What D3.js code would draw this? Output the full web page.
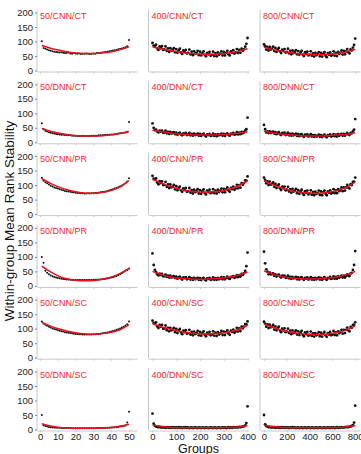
<!DOCTYPE html>
<html>
<head>
<meta charset="utf-8">
<script src="https://cdn.jsdelivr.net/npm/d3@7"></script>
<style>
  html, body { margin: 0; padding: 0; background: #fff; }
  svg { display: block; font-family: "Liberation Sans", Arial, sans-serif; }
</style>
</head>
<body>
<div id="container"></div>
<script>
// sizes of each column (number of groups) and the row labels
const groupSizes = [50, 400, 800];
const rowLabels = ['CNN/CT', 'DNN/CT', 'CNN/PR', 'DNN/PR', 'CNN/SC', 'DNN/SC'];
const yTicks = [0, 50, 100, 150, 200];
const xTicks = [
  [0, 10, 20, 30, 40, 50],
  [0, 100, 200, 300, 400],
  [0, 200, 400, 600, 800],
];

// 50-group panels: one value per group (groups 1..50)
const cnnCt50 = [101,78,75,72,70,68,66,65,64,63, 62,63,61,60,60,62,59,58,60,59, 58,59,57,58,58,59,58,57,58,59, 58,60,60,61,62,63,64,65,66,67, 69,70,71,73,74,76,78,80,84,105];
const dnnCt50 = [66,45,40,37,35,33,31,30,29,28, 27,26,26,25,25,24,24,23,23,23, 22,22,22,23,22,22,22,22,23,23, 23,23,24,24,24,25,25,26,26,27, 27,28,29,30,31,32,33,34,36,70];
const cnnPr50 = [125,115,110,106,102,98,95,92,90,88, 86,84,82,80,79,78,77,75,75,74, 73,73,72,72,71,71,72,71,72,72, 73,73,74,75,76,77,78,80,82,84, 86,88,90,93,96,99,102,106,112,124];
const dnnPr50 = [100,80,52,45,40,36,33,31,29,27, 26,25,24,23,22,22,21,21,20,20, 20,20,20,20,20,20,20,20,20,21, 21,21,22,22,23,24,25,26,27,29, 30,32,34,37,40,44,48,52,55,60];
const cnnSc50 = [125,118,114,110,107,104,101,99,97,95, 93,91,90,88,87,86,85,84,83,82, 82,81,81,80,80,80,80,80,80,81, 81,82,82,83,84,85,86,87,89,90, 92,94,96,98,101,104,107,111,115,125];
const dnnSc50 = [50,15,12,10,9,8,7,7,6,6, 6,5,5,5,5,5,5,4,4,4, 4,4,4,4,4,4,4,4,4,4, 4,5,5,5,5,5,6,6,6,7, 7,8,8,9,10,11,12,14,24,61];

// 400-group panels: every 5th group (0..400)
const cnnCt400 = [95,86,84,89,76,71,83,77,84,71, 73,83,68,76,64,77,68,71,77,63, 74,61,69,75,62,57,69,64,71,59, 61,72,56,65,53,66,58,61,68,53, 65,52,60,66,54,49,61,56,64,51, 54,65,50,60,49,62,54,58,66,52, 64,52,61,68,56,52,66,61,70,58, 62,74,60,71,61,75,68,73,82,92, 112];
const dnnCt400 = [65,50,42,44,37,34,40,37,40,33, 34,40,31,36,29,36,30,33,35,28, 33,26,31,33,27,24,31,28,32,25, 27,32,24,29,23,30,25,27,30,23, 29,22,27,30,24,20,27,25,29,22, 24,30,22,27,21,28,24,26,30,23, 29,22,28,31,25,23,30,28,32,26, 28,35,27,33,28,36,31,35,40,45, 85];
const cnnPr400 = [132,122,119,123,109,103,114,107,113,100, 101,111,94,102,90,102,92,95,101,85, 96,82,90,95,82,77,89,83,90,77, 79,90,74,83,71,84,76,79,86,71, 83,70,79,85,73,68,81,76,84,72, 75,86,72,81,71,84,76,81,88,75, 87,75,85,92,81,77,90,86,95,84, 88,101,89,100,91,107,101,107,116,115, 130];
const dnnPr400 = [112,72,55,47,40,36,42,38,41,33, 34,39,31,35,29,35,29,32,34,27, 32,25,29,32,26,22,29,27,30,23, 25,30,22,27,21,28,23,25,28,21, 27,20,25,28,22,19,26,24,28,21, 23,29,21,27,21,28,23,26,30,23, 29,23,28,32,26,24,31,30,34,28, 30,37,30,37,32,41,38,44,52,68, 115];
const cnnSc400 = [128,120,117,122,108,102,113,107,113,100, 101,111,95,103,91,103,94,97,103,88, 99,85,94,99,87,81,93,88,95,83, 85,96,80,89,77,90,82,85,92,77, 89,76,85,91,79,74,86,81,89,77, 80,91,76,86,75,88,80,84,92,78, 90,78,88,94,83,79,93,89,97,86, 90,103,90,101,92,107,101,107,116,115, 125];
const dnnSc400 = [55,20,13,10,9,8,9,7,8,7, 8,6,7,8,6,7,6,8,7,6, 7,6,8,6,7,5,7,6,8,6, 7,5,6,7,5,6,7,6,5,7, 6,5,7,6,5,7,6,5,6,7, 6,5,7,6,5,6,7,5,6,7, 6,7,5,6,8,6,7,6,8,7, 7,8,7,9,8,9,10,11,14,22, 80];

// 800-group panels: every 10th group (0..800)
const cnnCt800 = [90,84,72,81,69,81,72,75,82,67, 78,64,73,78,66,60,72,67,74,62, 64,75,59,68,56,69,60,64,70,56, 67,54,62,68,55,50,63,57,65,52, 55,66,51,59,48,61,53,57,63,49, 61,48,57,63,51,46,60,54,62,51, 54,66,51,61,50,64,57,61,69,55, 68,56,66,74,63,59,73,69,79,88, 110];
const dnnCt800 = [60,45,34,38,32,38,32,35,37,30, 35,28,32,35,28,25,32,29,33,25, 27,33,24,29,23,30,24,27,30,22, 28,21,26,28,22,19,26,24,27,20, 22,28,20,25,19,25,20,22,26,19, 25,18,23,26,20,17,25,23,27,20, 22,28,21,26,20,28,23,26,29,23, 29,23,28,32,27,25,32,31,38,44, 80];
const cnnPr800 = [126,118,106,113,100,112,102,104,109,94, 104,90,98,102,89,83,95,89,95,82, 84,94,78,86,74,87,78,81,87,72, 83,70,78,84,71,66,79,73,81,68, 71,82,67,76,65,77,70,72,81,66, 78,65,75,81,70,65,78,74,82,71, 74,86,72,82,72,86,79,84,92,79, 92,81,92,101,91,88,103,100,111,112, 126];
const dnnPr800 = [118,78,57,49,40,46,40,41,43,35, 40,32,37,39,32,29,35,32,35,28, 29,35,26,31,24,31,26,28,31,23, 29,22,28,30,24,21,28,25,29,22, 24,30,22,27,21,28,23,26,29,22, 28,21,26,30,24,21,28,26,31,24, 26,33,25,31,25,33,28,32,35,29, 35,29,35,40,35,34,43,45,55,72, 120];
const cnnSc800 = [124,117,107,115,102,114,105,107,113,97, 108,94,102,107,94,88,100,94,101,88, 90,100,85,93,81,94,85,88,94,80, 91,78,86,92,79,74,87,81,89,76, 79,90,75,84,73,85,77,80,88,74, 86,73,82,89,77,72,85,80,89,77, 80,92,78,87,77,91,84,89,96,83, 96,85,96,104,94,91,106,103,113,113, 122];
const dnnSc800 = [50,18,12,10,8,9,7,8,7,8, 6,7,8,6,7,6,8,7,6,7, 6,7,5,7,6,8,6,7,5,6, 7,5,6,7,5,6,7,5,6,7, 6,5,7,6,5,6,7,5,6,7, 6,5,6,7,5,6,7,6,5,7, 6,7,5,6,8,6,7,6,8,7, 7,8,8,9,8,10,10,12,15,24, 82];

// fitted (red) curves, value at 0%,10%,...,100% of the group range
const fitCnnCt = [[86,77,70,64,60,59,59,61,65,72,82], [82,74,68,63,59,57,56,57,60,66,75], [80,72,66,61,57,55,55,56,59,64,73]];
const fitDnnCt = [[48,38,31,26,23,22,22,23,26,30,37], [42,36,31,28,26,25,25,26,28,31,36], [38,32,28,25,23,22,22,23,25,28,33]];
const fitCnnPr = [[122,106,93,83,76,72,72,75,82,94,116], [120,106,94,85,79,76,76,79,86,97,115], [115,101,90,81,75,72,72,75,81,92,110]];
const fitDnnPr = [[68,48,33,24,19,18,19,24,31,43,60], [50,38,30,26,24,23,24,26,30,37,48], [52,40,32,27,25,24,25,27,31,38,50]];
const fitCnnSc = [[122,109,99,91,85,82,81,83,88,97,114], [118,106,97,90,85,82,82,84,89,97,112], [116,104,95,88,83,80,80,82,87,95,110]];
const fitDnnSc = [[20,12,7,5,4,4,4,5,7,11,18], [16,10,7,6,6,6,6,6,7,9,14], [15,10,7,6,6,6,6,6,7,9,14]];

const points = [
  [cnnCt50, cnnCt400, cnnCt800],
  [dnnCt50, dnnCt400, dnnCt800],
  [cnnPr50, cnnPr400, cnnPr800],
  [dnnPr50, dnnPr400, dnnPr800],
  [cnnSc50, cnnSc400, cnnSc800],
  [dnnSc50, dnnSc400, dnnSc800],
];
const fits = [fitCnnCt, fitDnnCt, fitCnnPr, fitDnnPr, fitCnnSc, fitDnnSc];

const W = 361, H = 454;
const left0 = 37, colPitch = 111.5, panelW = 100;
const top0 = 12.5, rowPitch = 71.8, panelH = 58;
const xDomains = [[-1.7, 54.5], [-16.8, 404], [-35, 842]];

const svg = d3.select('#container').append('svg')
  .attr('width', W)
  .attr('height', H);

const y = d3.scaleLinear().domain([0, 200]).range([panelH, 0]);

rowLabels.forEach((rowLabel, r) => {
  groupSizes.forEach((n, c) => {
    const g = svg.append('g')
      .attr('transform', `translate(${left0 + c * colPitch},${top0 + r * rowPitch})`);
    const x = d3.scaleLinear().domain(xDomains[c]).range([0, panelW]);

    // axes
    const xAxis = d3.axisBottom(x).tickValues(xTicks[c]).tickSize(2).tickPadding(1).tickSizeOuter(0);
    if (r !== rowLabels.length - 1) xAxis.tickFormat('');
    const xg = g.append('g')
      .attr('transform', `translate(0,${panelH + 1})`)
      .call(xAxis);
    xg.select('.domain').attr('stroke', '#c8c8c8');
    xg.selectAll('.tick line').attr('stroke', '#c8c8c8');
    xg.selectAll('.tick text').attr('fill', '#222').attr('font-size', 9.5);

    g.append('line')
      .attr('x1', 0).attr('x2', 0)
      .attr('y1', -3).attr('y2', panelH + 1)
      .attr('stroke', '#c8c8c8');

    if (c === 0) {
      const yg = g.append('g')
        .call(d3.axisLeft(y).tickValues(yTicks).tickSize(2).tickPadding(2));
      yg.select('.domain').remove();
      yg.selectAll('.tick line').attr('stroke', '#888');
      yg.selectAll('.tick text').attr('fill', '#222').attr('font-size', 9.5);
    }

    // points
    const vals = points[r][c];
    const step = c === 0 ? 1 : n / (vals.length - 1);
    const x0 = c === 0 ? 1 : 0;
    g.append('g')
      .selectAll('circle')
      .data(vals)
      .enter()
      .append('circle')
        .attr('cx', (d, i) => x(x0 + i * step))
        .attr('cy', d => y(d))
        .attr('r', c === 0 ? 1 : 1.4)
        .attr('fill', '#111');

    // fitted curve
    const fit = fits[r][c];
    const line = d3.line()
      .x((d, i) => x(x0 + (n - x0) * i / (fit.length - 1)))
      .y(d => y(d))
      .curve(d3.curveNatural);
    g.append('path')
      .attr('d', line(fit))
      .attr('fill', 'none')
      .attr('stroke', '#e8101a')
      .attr('stroke-width', 1.5);

    // panel label
    g.append('text')
      .attr('x', 3)
      .attr('y', 6)
      .attr('font-size', 9)
      .attr('fill', '#f0282d')
      .text(`${n}/${rowLabel}`);
  });
});

// titles
svg.append('text')
  .attr('transform', `translate(14,${top0 + (rowPitch * 5 + panelH) / 2}) rotate(-90)`)
  .attr('text-anchor', 'middle')
  .attr('font-size', 13.5)
  .attr('fill', '#111')
  .text('Within-group Mean Rank Stability');

svg.append('text')
  .attr('x', left0 + colPitch + panelW / 2)
  .attr('y', 452.5)
  .attr('text-anchor', 'middle')
  .attr('font-size', 12.5)
  .attr('fill', '#111')
  .text('Groups');
</script>
</body>
</html>
